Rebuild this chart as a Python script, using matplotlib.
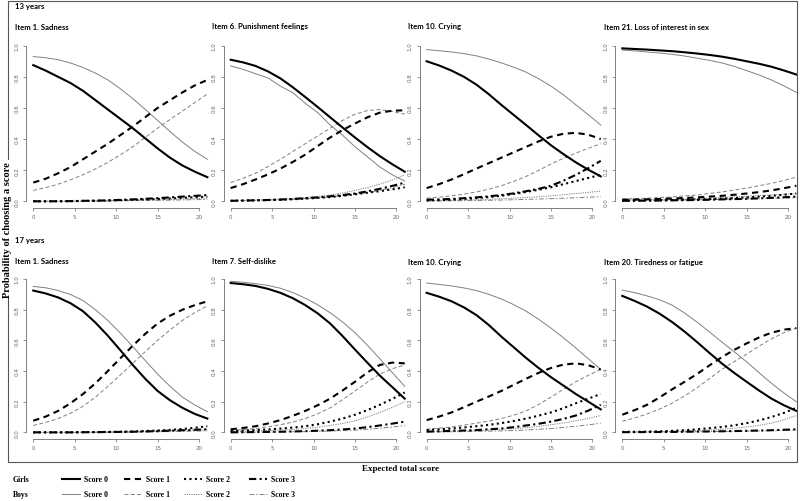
import matplotlib
matplotlib.use("Agg")
import matplotlib.pyplot as plt
from matplotlib.lines import Line2D
from matplotlib.patches import Rectangle

# expected total score at which the curves are read
expected_score = [0, 1.5, 3, 4.5, 6, 7.5, 9, 10.5, 12, 13.5, 15, 16.5, 18, 19.5, 21]

# ---- 13 years ----
sad13_girls = [
    [.875, .84, .80, .76, .71, .65, .59, .53, .47, .405, .34, .28, .23, .19, .155],
    [.12, .145, .18, .22, .27, .32, .37, .425, .48, .54, .60, .65, .70, .745, .78],
    [0, 0, 0, .001, .002, .003, .005, .007, .01, .012, .015, .018, .022, .026, .03],
    [0, 0, 0, .001, .003, .004, .006, .009, .012, .016, .02, .025, .03, .035, .04],
]
sad13_boys = [
    [.93, .923, .91, .889, .86, .824, .78, .724, .66, .591, .52, .448, .38, .32, .27],
    [.07, .088, .11, .138, .17, .208, .25, .298, .35, .41, .47, .526, .58, .635, .69],
    [0, 0, 0, .001, .002, .003, .004, .005, .007, .008, .01, .012, .015, .017, .02],
    [0, 0, 0, 0, .001, .0015, .002, .003, .004, .005, .006, .0075, .009, .0105, .012],
]
pun13_girls = [
    [.91, .893, .87, .835, .79, .733, .67, .606, .54, .474, .41, .348, .29, .238, .19],
    [.085, .11, .14, .173, .21, .253, .30, .355, .41, .458, .50, .54, .57, .582, .585],
    [.003, .0045, .006, .008, .01, .013, .017, .022, .027, .035, .045, .055, .065, .077, .09],
    [.003, .0045, .006, .008, .011, .015, .02, .025, .032, .04, .05, .064, .08, .099, .12],
]
pun13_boys = [
    [.87, .848, .82, .793, .74, .698, .63, .57, .49, .425, .35, .286, .22, .17, .13],
    [.12, .148, .18, .223, .27, .32, .37, .42, .47, .52, .56, .583, .59, .578, .56],
    [.004, .006, .008, .011, .014, .018, .024, .031, .04, .053, .07, .088, .11, .137, .17],
    [.003, .0045, .006, .008, .01, .013, .017, .022, .028, .035, .045, .056, .07, .088, .11],
]
cry13_girls = [
    [.90, .873, .84, .80, .75, .688, .62, .555, .49, .424, .36, .303, .25, .203, .16],
    [.085, .11, .14, .174, .21, .245, .28, .315, .35, .385, .415, .434, .44, .428, .40],
    [.005, .007, .01, .015, .02, .027, .035, .047, .06, .074, .09, .11, .13, .15, .17],
    [.01, .012, .015, .02, .025, .032, .04, .051, .065, .08, .10, .132, .17, .213, .26],
]
cry13_boys = [
    [.975, .968, .96, .949, .935, .914, .89, .862, .83, .788, .74, .684, .62, .556, .49],
    [.02, .027, .035, .046, .06, .078, .10, .128, .16, .198, .24, .276, .31, .341, .37],
    [.003, .0045, .006, .008, .01, .013, .016, .02, .024, .029, .035, .042, .05, .057, .065],
    [.002, .0025, .003, .004, .005, .0065, .008, .01, .012, .0145, .017, .02, .023, .026, .03],
]
sex13_girls = [
    [.983, .979, .975, .970, .965, .958, .95, .941, .93, .916, .90, .884, .865, .841, .815],
    [.01, .011, .013, .015, .018, .021, .025, .03, .035, .042, .05, .059, .07, .084, .10],
    [.004, .005, .006, .007, .008, .01, .012, .014, .017, .021, .025, .03, .035, .042, .05],
    [.003, .0035, .004, .005, .006, .007, .008, .01, .012, .014, .016, .019, .022, .026, .03],
]
sex13_boys = [
    [.972, .967, .96, .953, .945, .934, .92, .906, .89, .867, .84, .812, .78, .742, .70],
    [.015, .017, .02, .024, .028, .034, .04, .05, .06, .072, .085, .10, .115, .134, .155],
    [.008, .009, .01, .011, .013, .015, .018, .021, .024, .028, .032, .036, .04, .045, .05],
    [.005, .0055, .006, .007, .008, .009, .01, .011, .012, .0135, .015, .0165, .018, .02, .022],
]

# ---- 17 years ----
sad17_girls = [
    [.925, .906, .88, .842, .79, .716, .63, .536, .44, .35, .27, .209, .16, .12, .09],
    [.076, .103, .14, .19, .25, .32, .40, .483, .565, .642, .71, .761, .80, .83, .855],
    [0, 0, 0, 0, .001, .002, .003, .004, .006, .009, .012, .016, .022, .03, .04],
    [0, 0, 0, 0, .001, .0015, .002, .003, .004, .006, .008, .011, .014, .017, .02],
]
sad17_boys = [
    [.952, .943, .925, .899, .86, .80, .73, .648, .56, .469, .38, .30, .23, .178, .135],
    [.045, .065, .09, .125, .17, .23, .30, .374, .45, .526, .60, .668, .73, .782, .825],
    [0, 0, 0, 0, .001, .0015, .002, .003, .004, .005, .007, .009, .011, .014, .018],
    [0, 0, 0, 0, 0, 0, .001, .0015, .002, .003, .004, .005, .007, .008, .01],
]
self17_girls = [
    [.974, .966, .955, .936, .91, .875, .83, .776, .71, .628, .54, .454, .37, .295, .22],
    [.02, .029, .04, .058, .08, .108, .14, .177, .22, .273, .33, .391, .44, .455, .45],
    [.01, .012, .015, .019, .025, .031, .04, .053, .07, .09, .115, .145, .18, .218, .26],
    [0, .001, .002, .003, .004, .006, .008, .011, .014, .019, .025, .034, .045, .057, .07],
]
self17_boys = [
    [.985, .979, .97, .958, .94, .912, .875, .832, .78, .72, .65, .568, .48, .39, .30],
    [.012, .018, .025, .036, .05, .067, .09, .121, .16, .213, .27, .328, .38, .415, .44],
    [.005, .0075, .01, .012, .015, .019, .025, .034, .045, .058, .075, .10, .13, .163, .20],
    [0, .0005, .001, .002, .003, .004, .005, .007, .009, .012, .015, .02, .027, .035, .045],
]
cry17_girls = [
    [.91, .885, .855, .815, .765, .70, .625, .555, .485, .42, .36, .305, .25, .20, .15],
    [.08, .103, .13, .164, .20, .234, .27, .31, .35, .388, .42, .442, .45, .438, .41],
    [.015, .02, .025, .032, .04, .049, .06, .074, .09, .109, .13, .158, .19, .22, .25],
    [.005, .007, .01, .012, .015, .02, .025, .034, .045, .056, .07, .088, .11, .142, .18],
]
cry17_boys = [
    [.974, .965, .955, .942, .925, .90, .87, .833, .79, .738, .68, .617, .55, .48, .41],
    [.02, .027, .035, .047, .06, .074, .09, .112, .14, .182, .23, .281, .33, .372, .41],
    [.004, .006, .008, .01, .012, .016, .02, .025, .03, .039, .05, .061, .075, .091, .11],
    [.002, .003, .004, .005, .006, .008, .01, .012, .015, .02, .025, .032, .04, .049, .06],
]
tired17_girls = [
    [.89, .857, .82, .774, .72, .658, .59, .519, .45, .388, .33, .273, .22, .177, .14],
    [.115, .145, .18, .228, .28, .329, .38, .436, .49, .538, .58, .619, .65, .67, .68],
    [.003, .004, .005, .007, .01, .014, .02, .027, .035, .046, .06, .078, .10, .127, .16],
    [.001, .0015, .002, .0025, .003, .004, .005, .006, .007, .0085, .01, .012, .014, .017, .02],
]
tired17_boys = [
    [.928, .911, .89, .865, .83, .779, .72, .656, .59, .526, .46, .389, .32, .257, .20],
    [.072, .094, .12, .152, .19, .237, .29, .35, .41, .461, .51, .562, .61, .65, .68],
    [.002, .003, .004, .0055, .007, .009, .012, .015, .02, .027, .035, .046, .06, .082, .11],
    [.001, .0015, .002, .0025, .003, .0035, .004, .005, .006, .007, .008, .0095, .011, .013, .015],
]

row_titles = ["13 years", "17 years"]
panel_titles = [
    ["Item 1. Sadness", "Item 6. Punishment feelings", "Item 10. Crying",
     "Item 21. Loss of interest in sex"],
    ["Item 1. Sadness", "Item 7. Self-dislike", "Item 10. Crying",
     "Item 20. Tiredness or fatigue"],
]
panel_data = [
    [(sad13_girls, sad13_boys), (pun13_girls, pun13_boys),
     (cry13_girls, cry13_boys), (sex13_girls, sex13_boys)],
    [(sad17_girls, sad17_boys), (self17_girls, self17_boys),
     (cry17_girls, cry17_boys), (tired17_girls, tired17_boys)],
]
score_labels = ["Score 0", "Score 1", "Score 2", "Score 3"]

W, H = 800, 502
GRAY = "#808080"
AX_GRAY = "#6a6a6a"
girls_styles = ["-", (0, (3, 2.2)), (0, (1, 1.6)), (0, (3.5, 1.6, 1, 1.6))]
boys_styles = ["-", (0, (4, 2.5)), (0, (1.2, 1.2)), (0, (5, 2, 1.5, 2))]
GIRLS_LW = 1.5
BOYS_LW = 0.7

title_font = dict(family="Lato", weight="bold", size=5.6)
serif_font = dict(family="Liberation Serif", weight="bold")


def fx(px):
    return px / W


def fy(px):
    return 1 - px / H


def style_axes(ax):
    ax.set_xlim(-0.84, 21.84)
    ax.set_ylim(-0.04, 1.04)
    for side in ("top", "right"):
        ax.spines[side].set_visible(False)
    ax.spines["left"].set_bounds(0, 1)
    ax.spines["bottom"].set_bounds(0, 20)
    for side in ("left", "bottom"):
        ax.spines[side].set_color(AX_GRAY)
        ax.spines[side].set_linewidth(0.6)
    ax.set_xticks([0, 5, 10, 15, 20])
    ax.set_yticks([0, 0.2, 0.4, 0.6, 0.8, 1.0])
    ax.set_yticklabels(["0.0", "0.2", "0.4", "0.6", "0.8", "1.0"],
                       rotation=90, va="center")
    ax.tick_params(length=2.5, width=0.5, color=AX_GRAY, labelsize=4,
                   labelcolor="#666666", pad=2.5)


def draw_panel(ax, girls, boys):
    for k in range(4):
        ax.plot(expected_score, boys[k], color=GRAY, lw=BOYS_LW,
                linestyle=boys_styles[k])
    for k in range(4):
        ax.plot(expected_score, girls[k], color="black", lw=GIRLS_LW,
                linestyle=girls_styles[k])
    style_axes(ax)


def main() -> None:
    fig = plt.figure(figsize=(W / 100, H / 100), dpi=100)

    col_left = [26.3, 223.7, 419.7, 615.3]
    ax_w = 188
    row_top = [40.5, 273.9]
    ax_h = [168, 165.6]
    row_label_y = [7, 240]
    title_y = [27, 262]

    for r in range(2):
        fig.text(fx(15), fy(row_label_y[r]), row_titles[r], va="center",
                 ha="left", **title_font)
        for c in range(4):
            ax = fig.add_axes([fx(col_left[c]), fy(row_top[r] + ax_h[r]),
                               ax_w / W, ax_h[r] / H])
            girls, boys = panel_data[r][c]
            draw_panel(ax, girls, boys)
            fig.text(fx(col_left[c] - 11.5), fy(title_y[r]), panel_titles[r][c],
                     va="center", ha="left", **title_font)

    # outer frame
    fig.add_artist(Rectangle((fx(8), fy(463)), (797 - 8) / W, (463 - 2) / H,
                             transform=fig.transFigure, fill=False,
                             edgecolor="#555555", lw=0.8))

    fig.text(fx(8), fy(230), "Probability of choosing a score", rotation=90,
             va="center", ha="center", size=7.5,
             bbox=dict(facecolor="white", edgecolor="none", pad=0.5),
             **serif_font)
    fig.text(fx(400), fy(469), "Expected total score", va="center",
             ha="center", size=6.5, **serif_font)

    # legend
    line_x = [62, 124, 184, 249]
    for label, y, styles, color, lw in (
            ("Girls", 480, girls_styles, "black", GIRLS_LW),
            ("Boys", 495, boys_styles, GRAY, BOYS_LW)):
        fig.text(fx(13), fy(y), label, va="center", ha="left", size=5.6,
                 **serif_font)
        for k in range(4):
            x0 = line_x[k]
            fig.add_artist(Line2D([fx(x0), fx(x0 + 18)], [fy(y), fy(y)],
                                  transform=fig.transFigure, color=color,
                                  lw=lw, linestyle=styles[k]))
            fig.text(fx(x0 + 22), fy(y), score_labels[k], va="center",
                     ha="left", size=5.6, **serif_font)

    fig.savefig("out.png", dpi=100)


if __name__ == "__main__":
    main()
